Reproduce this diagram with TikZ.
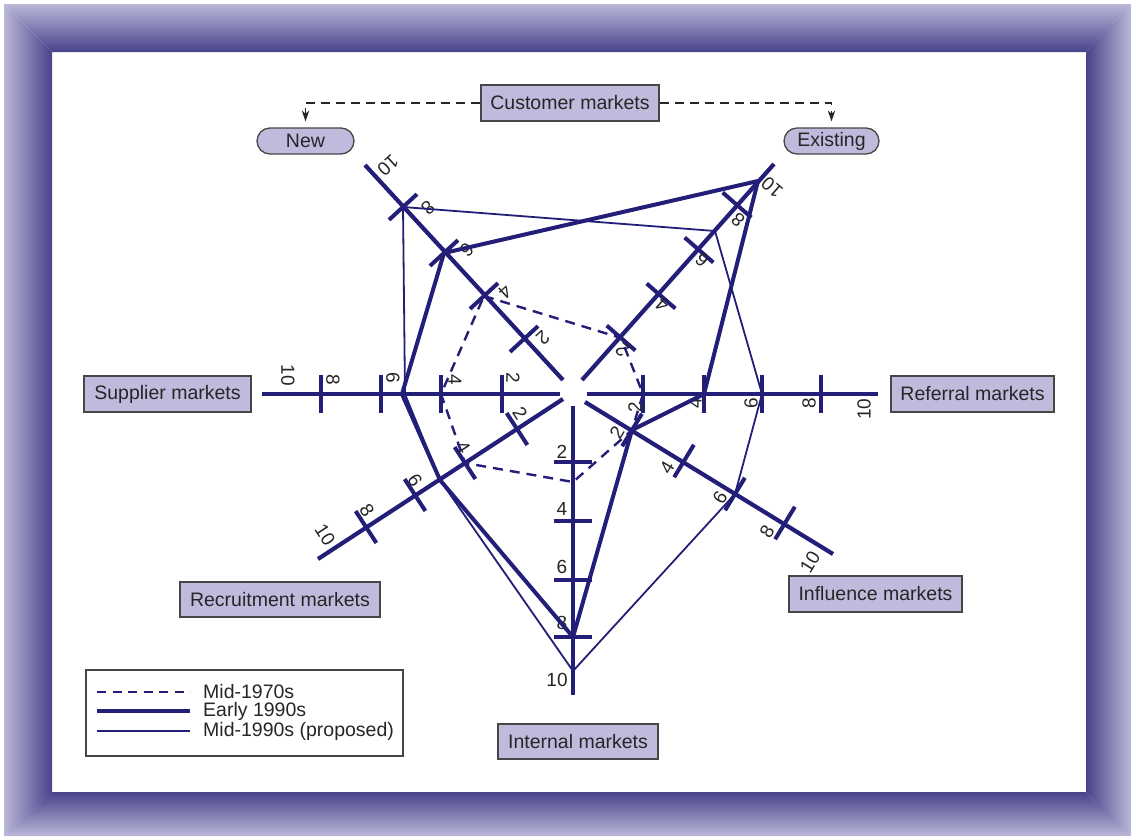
\documentclass[tikz,border=0pt]{standalone}
\usepackage{fontspec}
\setmainfont{Liberation Sans}
\usetikzlibrary{calc,arrows.meta}
\definecolor{navy}{RGB}{35,31,120}
\definecolor{lav}{RGB}{190,187,221}
\definecolor{frlight}{RGB}{186,183,217}
\definecolor{frdark}{RGB}{72,67,138}
\definecolor{txt}{RGB}{38,38,38}
\definecolor{edge}{RGB}{70,70,70}
\newcommand\mytickset[2]{%
  \foreach \tx/\ty in {#2}{\draw[tickmark] ($(\tx,\ty)+({#1+90}:19pt)$) -- ($(\tx,\ty)+({#1-90}:19pt)$);}}
\begin{document}
\begin{tikzpicture}[x=1pt,y=-1pt,
  box/.style={draw=edge, line width=1.3pt, fill=lav, text=txt, inner sep=0pt, font=\fontsize{19.5}{22}\selectfont},
  pill/.style={box, rounded corners=13pt},
  axisline/.style={draw=navy, line width=4.2pt},
  tickmark/.style={draw=navy, line width=4pt},
  ticklbl/.style={text=txt, inner sep=0pt, font=\fontsize{19}{22}\selectfont},
  early/.style={draw=navy, line width=4pt, line join=round},
  proposed/.style={draw=navy, line width=1.8pt, line join=round},
  seventies/.style={draw=navy, line width=2.4pt, dash pattern=on 10pt off 7pt},
  guide/.style={draw=txt, line width=1.2pt, dash pattern=on 9pt off 6pt, -{Stealth[length=11pt,width=7.5pt]}},
  legtext/.style={text=txt, anchor=west, inner sep=0pt, font=\fontsize{19.5}{22}\selectfont}]
\useasboundingbox (0,0) rectangle (1131,836);
\fill[white] (0,0) rectangle (1131,836);
% bevelled frame
\shade[top color=frlight, bottom color=frdark] (4,4) -- (1131,4) -- (1086,52) -- (52,52) -- cycle;
\shade[left color=frlight, right color=frdark] (4,4) -- (52,52) -- (52,792) -- (4,836) -- cycle;
\shade[left color=frdark, right color=frlight] (1131,4) -- (1086,52) -- (1086,792) -- (1131,836) -- cycle;
\shade[top color=frdark, bottom color=frlight] (4,836) -- (52,792) -- (1086,792) -- (1131,836) -- cycle;

% axes
\draw[axisline] (560,394) -- (262,394);   % supplier
\draw[axisline] (587,394) -- (878,394);   % referral
\draw[axisline] (573,406) -- (573,695);   % internal
\draw[axisline] (563,380) -- (365,165);   % new
\draw[axisline] (582,380) -- (774,164);   % existing
\draw[axisline] (563,399) -- (318,559);   % recruitment
\draw[axisline] (585,402) -- (833,554);   % influence

% ticks
\mytickset{180}{502/394,441/394,381/394,321/394}
\mytickset{0}{643/394,704/394,762/394,821/394}
\mytickset{270}{573/462,573/521,573/580,573/637}
\mytickset{132.6}{524/339,484/296,444/253,403/207}
\mytickset{48.9}{621/338,661/296,699/250,737/205}
\mytickset{213}{517/429,465/463,415/495,366/527}
\mytickset{-31.3}{632/430,684/461,735/494,785/523}

% tick labels
\foreach \lx/\ly/\t in {288/375/10,333/380/8,393/378/6,455/380/4,513/378/2}
  \node[ticklbl, rotate=270] (sup\t) at (\lx,\ly) {\t};
\foreach \lx/\ly/\t in {635/407/2,695/403/4,751/403/6,809/403/8,864/409/10}
  \node[ticklbl, rotate=90] (ref\t) at (\lx,\ly) {\t};
\foreach \lx/\ly/\t in {562/452/2,562/509/4,562/567/6,562/623/8,557/680/10}
  \node[ticklbl] (int\t) at (\lx,\ly) {\t};
\foreach \lx/\ly/\t in {388/165/10,428/208/8,467/250/6,505/292/4,543/338/2}
  \node[ticklbl, rotate=222.6] (new\t) at (\lx,\ly) {\t};
\foreach \lx/\ly/\t in {772/187/10,738/220/8,702/260/6,662/305/4,622/350/2}
  \node[ticklbl, rotate=138.9] (ex\t) at (\lx,\ly) {\t};
\foreach \lx/\ly/\t in {325/535/10,367/510/8,415/480/6,463/447/4,520/413/2}
  \node[ticklbl, rotate=303] (rec\t) at (\lx,\ly) {\t};
\foreach \lx/\ly/\t in {810/562/10,767/532/8,720/498/6,667/468/4,617/433/2}
  \node[ticklbl, rotate=58.7] (inf\t) at (\lx,\ly) {\t};

% data vertices
\coordinate (a1) at (484,296); \coordinate (a2) at (621,338); \coordinate (a3) at (643,394);
\coordinate (a4) at (632,430); \coordinate (a5) at (573,482); \coordinate (a6) at (465,463);
\coordinate (a7) at (441,394);
\coordinate (b1) at (444,253); \coordinate (b2) at (758,181); \coordinate (b3) at (704,394);
\coordinate (b4) at (632,430); \coordinate (b5) at (573,637); \coordinate (b6) at (440,480);
\coordinate (b7) at (402,394);
\coordinate (c1) at (403,207); \coordinate (c2) at (715,231); \coordinate (c3) at (762,394);
\coordinate (c4) at (735,494); \coordinate (c5) at (573,671); \coordinate (c6) at (440,480);
\coordinate (c7) at (402,394);

\draw[seventies] (a1) -- (a2) -- (a3) -- (a4) -- (a5) -- (a6) -- (a7) -- cycle;
\draw[proposed] (c1) -- (c2) -- (c3) -- (c4) -- (c5) -- (c6) -- ($(c7)+(3,0)$) -- (c1);
\draw[early] (b1) -- (b2) -- (b3) -- (b4) -- (b5) -- (b6) -- (b7) -- cycle;

% market boxes
\node[box, minimum width=178pt, minimum height=36pt] (cust) at (570,103) {Customer markets};
\node[pill, minimum width=97pt, minimum height=26pt] (newm) at (305.5,141) {New};
\node[pill, minimum width=95pt, minimum height=26pt] (exist) at (831.5,141) {Existing};
\node[box, minimum width=167pt, minimum height=36pt] (supp) at (167.5,394) {Supplier markets};
\node[box, minimum width=163pt, minimum height=36pt] (refm) at (972.5,394) {Referral markets};
\node[box, minimum width=200pt, minimum height=35pt] (recm) at (280,599.5) {Recruitment markets};
\node[box, minimum width=173pt, minimum height=36pt] (infm) at (875.5,594) {Influence markets};
\node[box, minimum width=160pt, minimum height=35pt] (intm) at (578,741.5) {Internal markets};

\draw[guide, shorten >=6pt] (cust.west) -| (newm.north);
\draw[guide, shorten >=6pt] (cust.east) -| (exist.north);

% legend
\node[draw=edge, line width=1.3pt, fill=white, minimum width=317pt, minimum height=86pt, inner sep=0pt] (legend) at (244.5,713) {};
\coordinate (l1a) at (97,692); \coordinate (l1b) at (190,692);
\coordinate (l2a) at (97,711); \coordinate (l2b) at (190,711);
\coordinate (l3a) at (97,731); \coordinate (l3b) at (190,731);
\draw[navy, line width=1.6pt, dash pattern=on 9pt off 6.5pt] (l1a) -- (l1b);
\draw[early] (l2a) -- (l2b);
\draw[proposed] (l3a) -- (l3b);
\node[legtext] (leg1) at (203,692) {Mid-1970s};
\node[legtext] (leg2) at (203,711) {Early 1990s};
\node[legtext] (leg3) at (203,731) {Mid-1990s (proposed)};
\end{tikzpicture}
\end{document}
